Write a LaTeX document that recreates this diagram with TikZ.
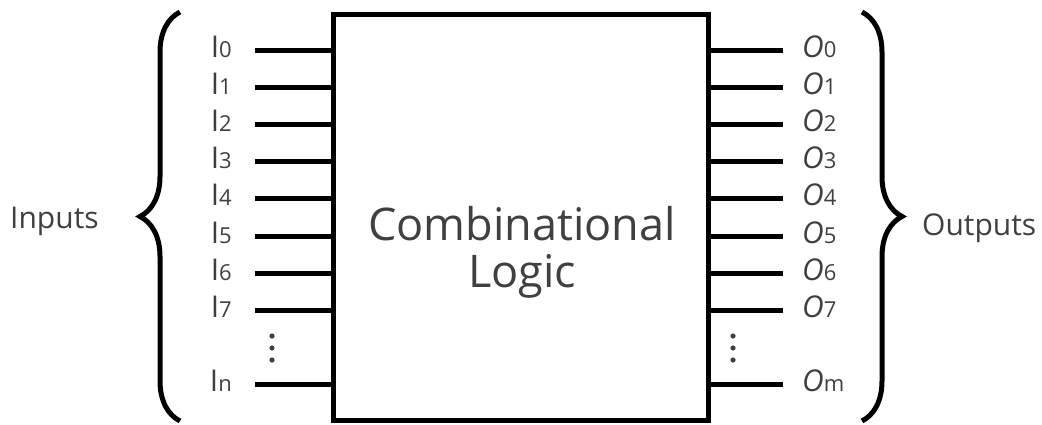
\documentclass[tikz,border=0pt]{standalone}
\usepackage{fontspec}
\setmainfont{Open Sans}
\usetikzlibrary{decorations.pathreplacing}
\definecolor{ink}{HTML}{404040}
\newcommand\idx[1]{{\fontsize{22}{23}\selectfont #1}}

\begin{document}
\begin{tikzpicture}[x=1pt, y=-1pt,
  wire/.style={line width=5pt},
  lbl/.style={text=ink, font=\fontsize{30}{32}\selectfont, inner sep=0pt},
  curly/.style={decorate, decoration={brace, amplitude=40pt}, line width=5pt}]
  \useasboundingbox (0,0) rectangle (1042,424);

  % The logic block
  \node[draw, line width=5pt, minimum width=375pt, minimum height=406pt,
        inner sep=0pt] (logic) at (520.5,217) {};
  \node[text=ink, font=\fontsize{45}{47}\selectfont, align=center]
        (title) at (522,252) {Combinational\\Logic};

  % Inputs and outputs 0..7
  \foreach \k in {0,...,7} {
    \pgfmathsetmacro{\y}{50+37.2*\k}
    \coordinate (i\k) at (255,\y);
    \coordinate (o\k) at (783,\y);
    \draw[wire] (i\k) -- (i\k -| logic.west);
    \draw[wire] (o\k -| logic.east) -- (o\k);
    \node[lbl, anchor=base east] (li\k) at (232,\y+7) {I\idx{\k}};
    \node[lbl, anchor=base west] (lo\k) at (802,\y+7) {{\itshape O}\idx{\k}};
  }

  % Last input and output
  \coordinate (in) at (255,384);
  \coordinate (om) at (783,384);
  \draw[wire] (in) -- (in -| logic.west);
  \draw[wire] (om -| logic.east) -- (om);
  \node[lbl, anchor=base east] (lin) at (232,391) {I\idx{n}};
  \node[lbl, anchor=base west] (lom) at (802,391) {{\itshape O}\idx{m}};

  % Vertical dots
  \foreach \d in {336,348,360} {
    \fill[ink] (272,\d) circle (2.6);
    \fill[ink] (733,\d) circle (2.6);
  }

  % Braces
  \draw[curly] (180,421) -- (180,12);
  \draw[curly] (862,12) -- (862,421);
  \node[lbl, anchor=base west] (inputs) at (10,228) {Inputs};
  \node[lbl, anchor=base west] (outputs) at (922,235) {Outputs};
\end{tikzpicture}
\end{document}
